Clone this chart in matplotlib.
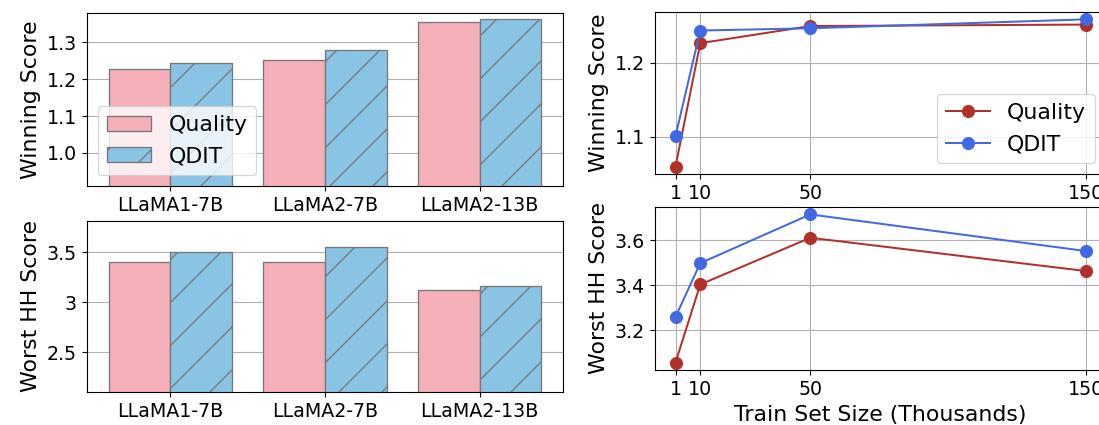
import matplotlib
matplotlib.use("Agg")
import matplotlib.pyplot as plt
import numpy as np

# Data
models = ["LLaMA1-7B", "LLaMA2-7B", "LLaMA2-13B"]
win_quality = [1.227, 1.252, 1.355]
win_qdit = [1.244, 1.280, 1.364]
hh_quality = [3.40, 3.40, 3.125]
hh_qdit = [3.50, 3.55, 3.16]

sizes = [1, 10, 50, 150]
size_win_quality = [1.060, 1.226, 1.249, 1.251]
size_win_qdit = [1.101, 1.243, 1.246, 1.258]
size_hh_quality = [3.056, 3.404, 3.612, 3.464]
size_hh_qdit = [3.259, 3.499, 3.716, 3.553]

# high dpi so the hatch spacing matches; sizes below are given in pixels
DPI = 258
W, H = 1099, 425


def px(v):
    return v * 72.0 / DPI


plt.rcParams.update({
    'axes.linewidth': px(1.1),
    'xtick.major.width': px(1.1),
    'ytick.major.width': px(1.1),
    'xtick.major.size': px(5),
    'ytick.major.size': px(5),
    'xtick.major.pad': px(5),
    'ytick.major.pad': px(5),
    'xtick.labelsize': px(19),
    'ytick.labelsize': px(19),
    'axes.labelsize': px(22),
    'axes.labelpad': px(6),
    'legend.fontsize': px(22),
    'grid.linewidth': px(1.1),
    'hatch.linewidth': px(1.3),
    'hatch.color': '#777777',
    'patch.linewidth': px(1.3),
})

pink = '#f5afb9'
sky = '#89c4e4'
red = '#b0302a'
blue = '#4169e1'

fig = plt.figure(figsize=(W / DPI, H / DPI), dpi=DPI)
ax_win = fig.add_axes([87 / W, 1 - 186 / H, 476 / W, 173 / H])
ax_hh = fig.add_axes([87 / W, 1 - 392 / H, 476 / W, 171 / H])
ax_sw = fig.add_axes([655 / W, 1 - 174 / H, 451 / W, 162 / H])
ax_sh = fig.add_axes([655 / W, 1 - 370 / H, 451 / W, 163 / H])

x = np.arange(len(models))
w = 0.4

for ax, q, d in [(ax_win, win_quality, win_qdit), (ax_hh, hh_quality, hh_qdit)]:
    ax.bar(x - w / 2, q, w, color=pink, edgecolor='#777777', label='Quality')
    ax.bar(x + w / 2, d, w, color=sky, edgecolor='#777777', hatch='//', label='QDIT')
    ax.set_xticks(x)
    ax.set_xticklabels(models)
    ax.yaxis.grid(True, color='#b0b0b0')
    ax.set_axisbelow(True)
    ax.set_xlim(-0.54, 2.54)

ax_win.set_ylim(0.91, 1.38)
ax_win.set_yticks([1.0, 1.1, 1.2, 1.3])
ax_win.set_ylabel('Winning Score')
ax_win.legend(loc='lower left')

ax_hh.set_ylim(2.1, 3.81)
ax_hh.set_yticks([2.5, 3.0, 3.5])
ax_hh.set_yticklabels(['2.5', '3', '3.5'])
ax_hh.set_ylabel('Worst HH Score')

for ax, q, d in [(ax_sw, size_win_quality, size_win_qdit), (ax_sh, size_hh_quality, size_hh_qdit)]:
    ax.plot(sizes, q, marker='o', color=red, linewidth=px(2), markersize=px(9.5), label='Quality')
    ax.plot(sizes, d, marker='o', color=blue, linewidth=px(2), markersize=px(9.5), label='QDIT')
    ax.set_xticks(sizes)
    ax.grid(True, color='#b0b0b0')

ax_sw.set_yticks([1.1, 1.2])
ax_sw.set_ylabel('Winning Score')
ax_sw.legend(loc='lower right')

ax_sh.set_yticks([3.2, 3.4, 3.6])
ax_sh.set_ylabel('Worst HH Score')
ax_sh.set_xlabel('Train Set Size (Thousands)')

fig.savefig('out.png', dpi=DPI)
